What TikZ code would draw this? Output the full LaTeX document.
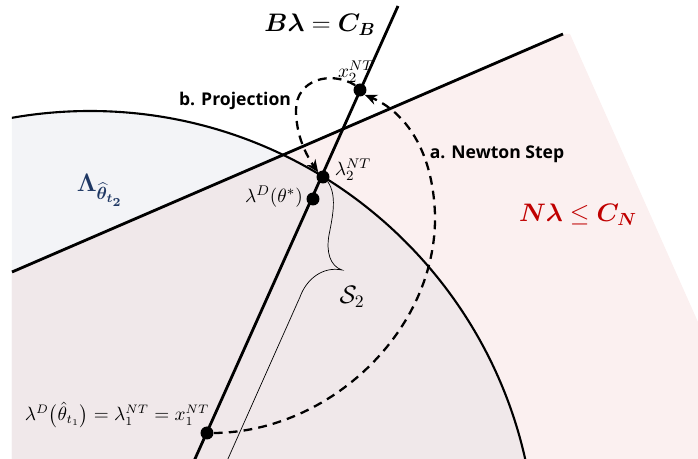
\documentclass[tikz,border=0pt]{standalone}
\usepackage{fontspec}
\setsansfont{Open Sans}
\usepackage{amsmath}
\usepackage{bm}
\usetikzlibrary{arrows.meta}
\definecolor{lightpink}{RGB}{251,240,240}
\definecolor{darkpink}{RGB}{240,232,234}
\definecolor{lightgrey}{RGB}{243,244,247}
\definecolor{darkblue}{RGB}{31,56,100}
\definecolor{darkred}{RGB}{192,0,0}

\begin{document}
\begin{tikzpicture}[x=0.02cm, y=-0.02cm]

\tikzset{mydot/.style={circle, fill=black, inner sep=0pt, minimum size=0.26cm}}
\tikzset{mydash/.style={line width=1.3pt, dash pattern=on 5pt off 3.5pt, -{Stealth[length=7pt, width=6pt]}}}
\tikzset{mytext/.style={font=\sffamily\bfseries}}
\tikzset{mylabel/.style={font=\fontsize{11}{13}\selectfont}}

\useasboundingbox (0,0) rectangle (698,459);
\clip (0,0) rectangle (698,459);

% regions
\fill[lightpink] (12,272) -- (565,34) -- (570,34) -- (698,322) -- (698,459) -- (12,459) -- cycle;
\begin{scope}
\clip (12,0) rectangle (698,459);
\fill[lightgrey] (90,557) circle (446);
\clip (12,272) -- (565,34) -- (698,34) -- (698,459) -- (12,459) -- cycle;
\fill[darkpink] (90,557) circle (446);
\end{scope}

% boundaries
\begin{scope}
\clip (12,0) rectangle (698,459);
\draw[line width=1.2pt] (90,557) circle (446);
\end{scope}
\coordinate (Nleft) at (12,272);
\coordinate (Nright) at (563,34);
\coordinate (Btop) at (398,6);
\coordinate (Bbot) at (190,470);
\draw[line width=1.6pt] (Nleft) -- (Nright);
\draw[line width=1.6pt] (Btop) -- (Bbot);

% points
\node[mydot] (x2) at (360,90) {};
\node[mydot] (lam2) at (323,177) {};
\node[mydot] (lamD) at (313,199) {};
\node[mydot] (x1) at (207,433) {};

% labels
\node (Blabel) at (320,25) {\Large $\bm{B\lambda} = \bm{C_B}$};
\node[mytext] (proj) at (235,101) {b. Projection};
\node[mytext] (newton) at (497,154) {a. Newton Step};
\node[text=darkblue] (Lam) at (100,190) {\Large $\bm{\Lambda_{\widehat{\theta}_{t_2}}}$};
\node[text=darkred] (Nlabel) at (578,215) {\Large $\bm{N\lambda} \leq \bm{C_N}$};
\node[mylabel] (x2lab) at (356,72) {$x_2^{NT}$};
\node[mylabel] (lam2lab) at (353,170) {$\lambda_2^{NT}$};
\node[mylabel] (lamDlab) at (274,197) {$\lambda^D(\theta^*)$};
\node[font=\fontsize{10.5}{12}\selectfont] (x1lab) at (117,415) {$\lambda^D\big(\hat{\theta}_{t_1}\big) = \lambda_1^{NT} = x_1^{NT}$};
\node (S2) at (352,297) {\Large $\mathcal{S}_2$};

% steps
\coordinate (nsmid) at (435,215);
\coordinate (projmid) at (296,110);
\draw[mydash] (x1.east) .. controls (330,432) and (437,330) .. (nsmid) .. controls (433,150) and (405,112) .. (x2.south east);
\draw[mydash] (x2.north west) .. controls (330,70) and (296,80) .. (projmid) .. controls (296,135) and (306,155) .. (lam2.north west);

% brace
\coordinate (bracetip) at (342,270);
\draw[line width=0.4pt] (lam2.south east) .. controls (337,195) and (333,215) .. (329,235) .. controls (326,252) and (330,266) .. (bracetip) .. controls (322,266) and (306,280) .. (300,297) -- (223,470);

\end{tikzpicture}
\end{document}
